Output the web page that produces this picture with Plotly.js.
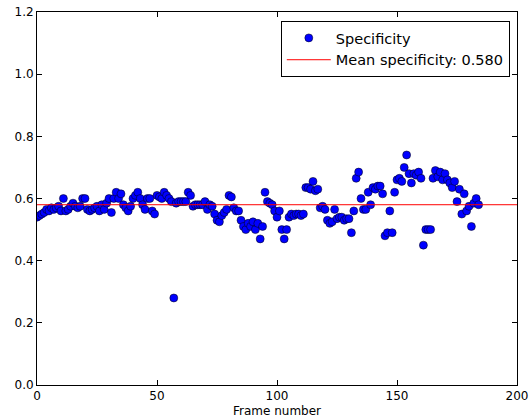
<!DOCTYPE html>
<html>
<head>
<meta charset="utf-8">
<script src="https://cdn.plot.ly/plotly-3.0.1.min.js"></script>
<style>html,body{margin:0;padding:0;background:#fff;}#chart{width:531px;height:419px;}</style>
</head>
<body>
<div id="chart"></div>
<script>
var specificity = [
0.54,0.545,0.55,0.555,0.565,0.56,0.57,0.565,0.57,0.575,
0.56,0.60,0.56,0.565,0.575,0.585,0.575,0.57,0.575,0.60,
0.60,0.565,0.56,0.565,0.57,0.575,0.56,0.58,0.565,0.585,
0.60,0.555,0.60,0.62,0.60,0.615,0.58,0.57,0.56,0.575,
0.60,0.61,0.62,0.60,0.58,0.565,0.60,0.60,0.56,0.55,
0.61,0.605,0.60,0.62,0.61,0.60,0.59,0.28,0.585,0.59,
0.59,0.59,0.59,0.62,0.61,0.575,0.58,0.58,0.58,0.58,
0.59,0.565,0.58,0.575,0.55,0.53,0.525,0.545,0.555,0.565,
0.61,0.605,0.57,0.56,0.56,0.53,0.51,0.50,0.52,0.51,
0.525,0.50,0.52,0.47,0.51,0.62,0.59,0.585,0.58,0.56,
0.54,0.56,0.50,0.47,0.50,0.54,0.55,0.545,0.55,0.55,
0.545,0.55,0.635,0.635,0.63,0.655,0.625,0.63,0.57,0.575,
0.565,0.53,0.52,0.525,0.565,0.535,0.54,0.54,0.53,0.535,
0.535,0.49,0.56,0.665,0.685,0.60,0.565,0.565,0.62,0.58,
0.635,0.63,0.64,0.64,0.615,0.48,0.49,0.56,0.49,0.62,
0.66,0.665,0.655,0.70,0.74,0.68,0.65,0.68,0.675,0.685,
0.665,0.45,0.50,0.50,0.50,0.665,0.69,0.67,0.685,0.66,
0.68,0.66,0.65,0.635,0.655,0.59,0.63,0.55,0.615,0.56,
0.575,0.51,0.585,0.60,0.58
];
var frames = specificity.map(function(v,i){return i;});
var meanSpecificity = 0.580;
var xRange = [0, 200];
var yRange = [0, 1.2];
var xTicks = [0, 50, 100, 150, 200];
var yTicks = [0.0, 0.2, 0.4, 0.6, 0.8, 1.0, 1.2];

var traces = [
  {x: frames, y: specificity, mode: 'markers', type: 'scatter', name: 'Specificity',
   marker: {color: '#0000ff', size: 8, line: {color: '#000000', width: 0.5}}},
  {x: xRange, y: [meanSpecificity, meanSpecificity], mode: 'lines', type: 'scatter',
   name: 'Mean specificity: ' + meanSpecificity.toFixed(3),
   line: {color: '#ff0000', width: 1}}
];

var axisCommon = {showline: true, linecolor: '#000', linewidth: 1, mirror: 'ticks',
  ticks: 'inside', ticklen: 5, tickcolor: '#000', showgrid: false, zeroline: false,
  tickfont: {family: 'DejaVu Sans', size: 12, color: '#000'}};

var layout = {
  width: 531, height: 419,
  margin: {l: 37, r: 14, t: 12, b: 34},
  paper_bgcolor: '#fff', plot_bgcolor: '#fff',
  font: {family: 'DejaVu Sans', size: 12, color: '#000'},
  xaxis: Object.assign({}, axisCommon, {range: xRange, tickvals: xTicks, ticktext: xTicks.map(String),
    title: {text: 'Frame number', font: {family: 'DejaVu Sans', size: 12}, standoff: 4}}),
  yaxis: Object.assign({}, axisCommon, {range: yRange, tickvals: yTicks, ticktext: yTicks.map(function(v){return v.toFixed(1);})}),
  showlegend: true,
  legend: {x: 0.985, y: 0.976, xanchor: 'right', yanchor: 'top', bgcolor: '#fff',
    bordercolor: '#000', borderwidth: 1, font: {family: 'DejaVu Sans', size: 14.5},
    itemwidth: 44, tracegroupgap: 0}
};

Plotly.newPlot('chart', traces, layout, {displayModeBar: false, staticPlot: true});
</script>
</body>
</html>
